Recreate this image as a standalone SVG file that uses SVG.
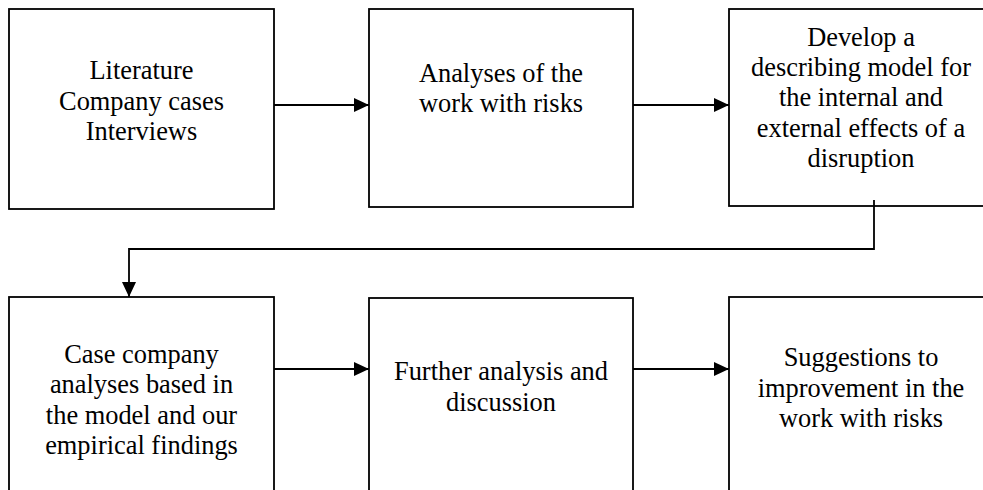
<svg xmlns="http://www.w3.org/2000/svg" width="983" height="490" viewBox="0 0 983 490">
  <style>
    .box { fill: #ffffff; stroke: #000000; stroke-width: 1.8; }
    .lbl { font-family: 'Liberation Serif', 'DejaVu Serif', serif; font-size: 26.4px; fill: #000000; text-anchor: middle; }
    .wire { fill: none; stroke: #000000; stroke-width: 1.8; }
  </style>
  <defs>
    <marker id="head" markerUnits="userSpaceOnUse" markerWidth="16" markerHeight="16" refX="15" refY="7" orient="auto">
      <path d="M0,0 L15,7 L0,14 z" fill="#000000"/>
    </marker>
  </defs>

  <!-- top row -->
  <g id="sources">
    <rect class="box" x="9" y="9" width="265" height="200"/>
    <text class="lbl" x="141.5" y="78.5">Literature</text>
    <text class="lbl" x="141.5" y="109.5">Company cases</text>
    <text class="lbl" x="141.5" y="140">Interviews</text>
  </g>
  <g id="risk-analysis">
    <rect class="box" x="369" y="9" width="264" height="198"/>
    <text class="lbl" x="501" y="81.5">Analyses of the</text>
    <text class="lbl" x="501" y="111.5">work with risks</text>
  </g>
  <g id="model">
    <rect class="box" x="729" y="9" width="265" height="197"/>
    <text class="lbl" x="861" y="45.5">Develop a</text>
    <text class="lbl" x="861" y="76">describing model for</text>
    <text class="lbl" x="861" y="106">the internal and</text>
    <text class="lbl" x="861" y="136.5">external effects of a</text>
    <text class="lbl" x="861" y="166.5">disruption</text>
  </g>

  <!-- bottom row -->
  <g id="case-analysis">
    <rect class="box" x="9" y="297" width="265" height="210"/>
    <text class="lbl" x="141.5" y="362.5">Case company</text>
    <text class="lbl" x="141.5" y="393">analyses based in</text>
    <text class="lbl" x="141.5" y="423.5">the model and our</text>
    <text class="lbl" x="141.5" y="453.5">empirical findings</text>
  </g>
  <g id="discussion">
    <rect class="box" x="369" y="298" width="264" height="210"/>
    <text class="lbl" x="501" y="380">Further analysis and</text>
    <text class="lbl" x="501" y="410.5">discussion</text>
  </g>
  <g id="suggestions">
    <rect class="box" x="729" y="297" width="265" height="210"/>
    <text class="lbl" x="861" y="366">Suggestions to</text>
    <text class="lbl" x="861" y="396.5">improvement in the</text>
    <text class="lbl" x="861" y="427">work with risks</text>
  </g>

  <!-- connectors -->
  <g id="connectors">
    <line class="wire" x1="274" y1="105" x2="369" y2="105" marker-end="url(#head)"/>
    <line class="wire" x1="633" y1="105" x2="729" y2="105" marker-end="url(#head)"/>
    <path class="wire" d="M874,200 V249 H129 V297" marker-end="url(#head)"/>
    <line class="wire" x1="274" y1="369" x2="369" y2="369" marker-end="url(#head)"/>
    <line class="wire" x1="633" y1="369" x2="729" y2="369" marker-end="url(#head)"/>
  </g>
</svg>
